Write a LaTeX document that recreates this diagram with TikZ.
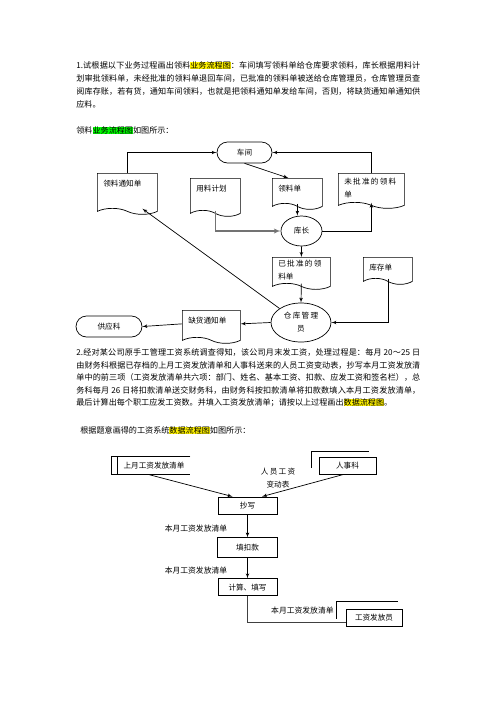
\documentclass[tikz,border=0pt]{standalone}
\usepackage{fontspec}
\setmainfont{Noto Sans CJK SC}
\usetikzlibrary{shapes.geometric, shapes.symbols, arrows, positioning}
\XeTeXlinebreaklocale "zh"
\XeTeXlinebreakskip=0pt plus 1pt
\newcommand\hly[1]{{\fboxsep=0pt\colorbox{yellow}{#1}}}
\newcommand\hlg[1]{{\fboxsep=0pt\colorbox{green}{#1}}}

\begin{document}
\begin{tikzpicture}[x=1pt, y=-1pt, line width=0.7pt,
    para/.style={anchor=north west, inner sep=0pt, text width=344pt, align=justify, font=\fontsize{8.1}{13}\selectfont},
    doc/.style={shape=tape, draw, tape bend top=none, tape bend bottom=out and in, tape bend height=6pt, anchor=north west, inner xsep=6pt, inner ysep=3pt, text width=#1, align=left, font=\fontsize{7.6}{13}\selectfont},
    term/.style={rectangle, draw, rounded corners=10.5pt, minimum height=21pt, font=\fontsize{7.6}{10}\selectfont},
    proc/.style={ellipse, draw, inner sep=0pt, align=center, font=\fontsize{7.6}{13}\selectfont},
    box/.style={rectangle, draw, line width=0.9pt, inner sep=0pt, font=\fontsize{7.6}{10}\selectfont},
    lbl/.style={inner sep=0pt, align=center, font=\fontsize{7.8}{13}\selectfont},
    line/.style={draw, -latex'}]
    \path[fill=white, use as bounding box] (0,0) rectangle (496,702);

    % question 1
    \node [para] (q1) at (76,61.5) {1.试根据以下业务过程画出领料\hly{业务流程图}：车间填写领料单给仓库要求领料，库长根据用料计\linebreak 划审批领料单，未经批准的领料单退回车间，已批准的领料单被送给仓库管理员，仓库管理员查\linebreak 阅库存账，若有货，通知车间领料，也就是把领料通知单发给车间，否则，将缺货通知单通知供\linebreak 应料。};
    \node [para, text width=200pt, align=left] (t1) at (76,126.5) {领料\hlg{业务流程图}如图所示：};

    \node [term, minimum width=55pt] (chejian) at (244.5,152.5) {车间};
    \node [doc=48pt, text height=10pt, text depth=19pt] (tongzhi) at (97,173) {领料通知单};
    \node [doc=38pt, text height=10pt, text depth=16pt] (jihua) at (190,178) {用料计划};
    \node [doc=38pt, text height=10pt, text depth=9pt] (lingliao) at (272,178) {领料单};
    \node [doc=54pt, minimum height=35pt] (weipizhun) at (338,173) {\mbox{未\,批\,准\,的\,领\,料}\\单};
    \node [proc, minimum width=41pt, minimum height=30pt] (kuzhang) at (301.5,231) {库长};
    \node [doc=46pt, minimum height=31pt] (yipizhun) at (272,257) {\mbox{已\,批\,准\,的\,领}\\料单};
    \node [doc=37pt, text height=10pt, text depth=5pt] (kucun) at (363,257) {库存单};
    \node [proc, minimum width=60pt, minimum height=39pt] (guanli) at (301,322.5) {仓\,库\,管\,理\\员};
    \node [doc=46pt, text height=10pt, text depth=11pt] (quehuo) at (182,310) {缺货通知单};
    \node [term, minimum width=66pt] (gongying) at (109,326.5) {供应科};

    \path [line] (tongzhi.north) |- (chejian.west);
    \path [line] (weipizhun.north) |- (chejian.east);
    \path [line] (chejian.south) -- ([xshift=-9pt]lingliao.north);
    \path [line, line width=1.3pt, draw=black!55] (jihua.south) |- (kuzhang.west);
    \path [line] (lingliao.south) -- (lingliao.south |- kuzhang.north);
    \path [line] (kuzhang.east) -| (weipizhun.south);
    \path [line] (kuzhang.south) -- (yipizhun.north);
    \path [line] (yipizhun.south) -- (guanli.north);
    \path [line] (kucun.south) |- (guanli.east);
    \path [line] (guanli.north west) -- ([xshift=15pt]tongzhi.south);
    \path [line] (guanli.west) -- (quehuo.east);
    \path [line] (quehuo.west) -- (gongying.east);

    % question 2
    \node [para, font=\fontsize{8.1}{12.5}\selectfont] (q2) at (76,348.5) {2.经对某公司原手工管理工资系统调查得知，该公司月末发工资，处理过程是：每月 20～25 日\linebreak 由财务科根据已存档的上月工资发放清单和人事科送来的人员工资变动表，抄写本月工资发放清\linebreak 单中的前三项（工资发放清单共六项：部门、姓名、基本工资、扣款、应发工资和签名栏），总\linebreak 务科每月 26 日将扣款清单送交财务科，由财务科按扣款清单将扣款数填入本月工资发放清单，\linebreak 最后计算出每个职工应发工资数。并填入工资发放清单；请按以上过程画出\hly{数据流程图}。};
    \node [para, text width=300pt, align=left] (t2) at (80,426.5) {根据题意画得的工资系统\hly{数据流程图}如图所示：};

    \node [lbl, font=\fontsize{7.6}{13}\selectfont, minimum width=72pt, minimum height=17pt] (shangyue) at (154,465.5) {上月工资发放清单};
    \draw (shangyue.north east) -- ([xshift=-6pt]shangyue.north west) -- ([xshift=-6pt]shangyue.south west) -- (shangyue.south east);
    \draw (shangyue.north west) -- (shangyue.south west);
    \node [box, minimum width=57pt, minimum height=17pt] (renshi) at (347.5,465.5) {人事科};
    \draw ([shift={(-7pt,-11pt)}]renshi.north west) -- ([shift={(-7pt,5pt)}]renshi.north west) -- ([shift={(-7pt,5pt)}]renshi.north east);
    \node [lbl, font=\fontsize{7.6}{13}\selectfont] (biandong) at (278,478.5) {人\,员\,工\,资\\变动表};

    \node [box, minimum width=59pt, minimum height=17pt] (chaoxie) at (247.5,505.5) {抄写};
    \node [box, minimum width=60pt, minimum height=20pt, below=23pt of chaoxie] (koukuan) {填扣款};
    \node [box, minimum width=59pt, minimum height=17pt, below=20pt of koukuan] (jisuan) {计算、填写};
    \node [box, minimum width=56pt, minimum height=17pt] (fafang) at (374,617.5) {工资发放员};
    \draw ([shift={(-9pt,-10pt)}]fafang.north west) -- ([shift={(-9pt,7pt)}]fafang.north west) -- ([shift={(-4pt,7pt)}]fafang.north east);

    \path [line] ([xshift=-6pt]shangyue.south) -- ([xshift=-15pt]chaoxie.north);
    \path [line] ([xshift=-4pt]renshi.south) -- ([xshift=14.5pt]chaoxie.north);
    \path [line] (chaoxie) -- node [lbl, left=20pt, yshift=-2.5pt] (qd1) {本月工资发放清单} (koukuan);
    \path [line] (koukuan) -- node [lbl, left=20pt, yshift=-2pt] (qd2) {本月工资发放清单} (jisuan);
    \draw [line width=1pt, draw=black!75] (jisuan.south) |- node [lbl, pos=0.78, above=7pt] (qd3) {本月工资发放清单} ([yshift=-4.5pt]fafang.west);
\end{tikzpicture}
\end{document}
